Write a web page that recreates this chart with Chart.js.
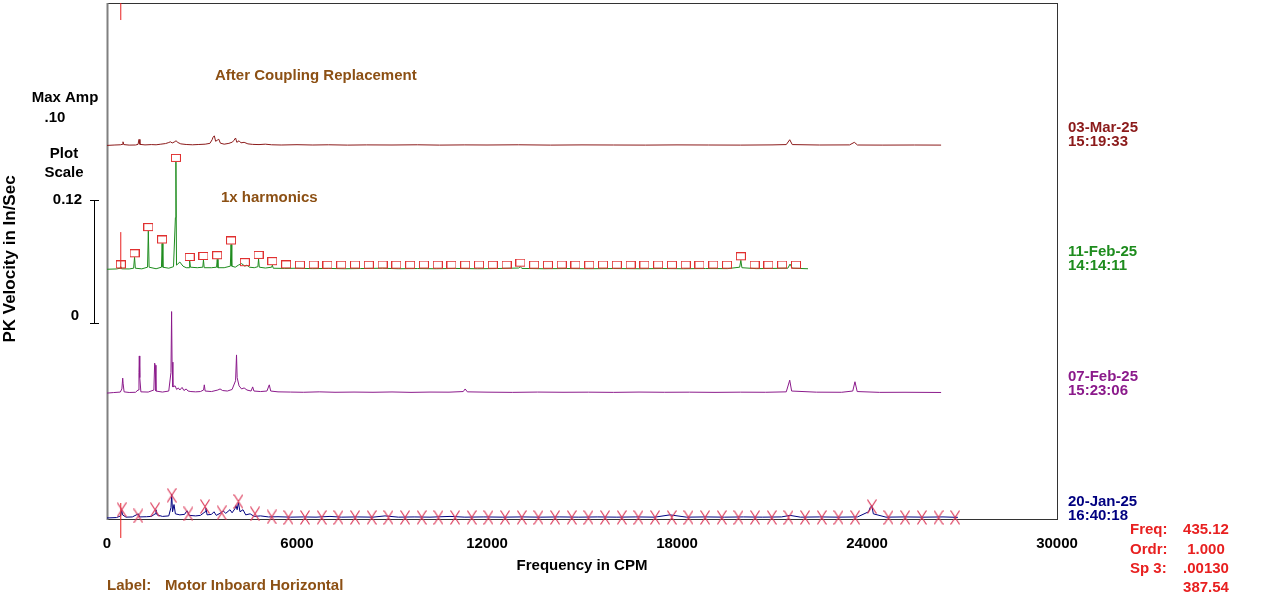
<!DOCTYPE html>
<html>
<head>
<meta charset="utf-8">
<script src="https://cdn.jsdelivr.net/npm/chart.js@4.4.1/dist/chart.umd.min.js"></script>
<style>
  html, body { margin: 0; padding: 0; background: #fff; overflow: hidden; }
  canvas { display: block; }
</style>
</head>
<body>
<canvas id="chart" width="1280" height="610" style="width:1280px;height:610px"></canvas>
<script>
// x ticks (CPM)
const xTicks = [0, 6000, 12000, 18000, 24000, 30000];

// waterfall dates, bottom to top
const traceDates = ['20-Jan-25', '07-Feb-25', '11-Feb-25', '03-Mar-25'];
const traceTimes = ['16:40:18', '15:23:06', '14:14:11', '15:19:33'];
const traceOffsets = [0.001, 0.122, 0.242, 0.362]; // in/sec, waterfall stacking

// 03-Mar-25 spectrum
const marFreq = [0, 250, 420, 480, 505, 530, 700, 900, 980, 1011, 1040, 1200, 1400, 1550, 1700, 1850, 1950, 2000, 2060, 2120,
  2180, 2240, 2330, 2500, 2700, 2900, 3100, 3250, 3320, 3350, 3390, 3430, 3480, 3530, 3580, 3700, 3850, 3960, 4010, 4060,
  4100, 4170, 4230, 4330, 4450, 4600, 4800, 5000, 5200, 5500, 6000, 6500, 7000, 7600, 8200, 9000, 9800, 10500, 11300, 12000,
  13000, 14000, 15000, 16000, 17000, 18000, 19000, 20000, 21000, 21450, 21560, 21640, 22500, 23450, 23600, 23700, 24500, 25500, 26340];
const marAmp = [0, 0.0004, 0.0006, 0.0010, 0.0035, 0.0008, 0.0003, 0.0004, 0.0010, 0.0058, 0.0010, 0.0005, 0.0008, 0.0006, 0.0012, 0.0018, 0.0028, 0.0035, 0.0024, 0.0032,
  0.0045, 0.0028, 0.0015, 0.0009, 0.0006, 0.0009, 0.0012, 0.0020, 0.0055, 0.0080, 0.0093, 0.0040, 0.0050, 0.0060, 0.0022, 0.0012, 0.0020, 0.0032, 0.0050, 0.0072,
  0.0030, 0.0045, 0.0025, 0.0030, 0.0015, 0.0010, 0.0008, 0.0012, 0.0006, 0.0004, 0.0007, 0.0004, 0.0006, 0.0003, 0.0005, 0.0004, 0.0006, 0.0003, 0.0005, 0.0004,
  0.0006, 0.0003, 0.0005, 0.0004, 0.0003, 0.0005, 0.0004, 0.0003, 0.0005, 0.0008, 0.0055, 0.0008, 0.0004, 0.0005, 0.0030, 0.0004, 0.0003, 0.0004, 0.0003];

// 11-Feb-25 spectrum
const feb11Freq = [0, 300, 420, 435, 460, 700, 840, 870, 895, 1100, 1280, 1305, 1330, 1550, 1720, 1740, 1765, 1950, 2100, 2160,
  2176, 2195, 2300, 2400, 2500, 2590, 2611, 2635, 2850, 3025, 3046, 3070, 3300, 3460, 3481, 3505, 3700, 3895, 3916, 3940,
  4050, 4150, 4250, 4351, 4420, 4500, 4650, 4765, 4786, 4810, 5000, 5200, 5221, 5250, 5600, 6000, 6500, 7000, 7500, 8000,
  8700, 9200, 9800, 10400, 11000, 11700, 12300, 13000, 13054, 13100, 13800, 14500, 15200, 16000, 16800, 17500, 18200, 18900, 19600, 19980,
  20016, 20050, 20500, 21000, 21500, 21570, 21640, 22137];
const feb11Amp = [0, 0.0003, 0.0010, 0.0025, 0.0004, 0.0003, 0.0010, 0.0116, 0.0010, 0.0004, 0.0020, 0.0370, 0.0020, 0.0005, 0.0020, 0.0250, 0.0020, 0.0010, 0.0025, 0.0500,
  0.1040, 0.0040, 0.0070, 0.0030, 0.0015, 0.0015, 0.0080, 0.0020, 0.0015, 0.0020, 0.0090, 0.0015, 0.0015, 0.0020, 0.0097, 0.0015, 0.0015, 0.0030, 0.0240, 0.0030,
  0.0020, 0.0040, 0.0055, 0.0030, 0.0040, 0.0020, 0.0015, 0.0025, 0.0100, 0.0020, 0.0012, 0.0020, 0.0040, 0.0010, 0.0008, 0.0010, 0.0006, 0.0008, 0.0005, 0.0007,
  0.0010, 0.0005, 0.0007, 0.0005, 0.0008, 0.0005, 0.0007, 0.0012, 0.0025, 0.0008, 0.0005, 0.0007, 0.0005, 0.0007, 0.0005, 0.0007, 0.0005, 0.0007, 0.0006, 0.0020,
  0.0087, 0.0015, 0.0006, 0.0008, 0.0010, 0.0050, 0.0010, 0.0005];

// 07-Feb-25 spectrum
const feb07Freq = [0, 200, 420, 470, 496, 510, 540, 700, 900, 980, 1010, 1020, 1035, 1070, 1300, 1480, 1505, 1520, 1545, 1750,
  1950, 2020, 2040, 2055, 2080, 2150, 2200, 2250, 2300, 2370, 2430, 2500, 2560, 2650, 2800, 2950, 3050, 3073, 3100, 3300,
  3500, 3570, 3650, 3800, 3950, 4060, 4090, 4110, 4170, 4250, 4330, 4420, 4550, 4600, 4640, 4850, 5050, 5125, 5170, 5400,
  5800, 6200, 6700, 7200, 7800, 8400, 9000, 9600, 10200, 10800, 11250, 11310, 11380, 12000, 12800, 13600, 14400, 15200, 16000, 16800,
  17600, 18400, 19200, 20000, 20800, 21450, 21560, 21620, 22400, 23200, 23550, 23620, 23690, 24400, 25200, 26340];
const feb07Amp = [0, 0.0005, 0.0010, 0.0040, 0.0145, 0.0090, 0.0012, 0.0006, 0.0008, 0.0030, 0.0200, 0.0360, 0.0150, 0.0012, 0.0010, 0.0030, 0.0290, 0.0270, 0.0020, 0.0010,
  0.0020, 0.0200, 0.0790, 0.0300, 0.0060, 0.0070, 0.0035, 0.0050, 0.0030, 0.0055, 0.0025, 0.0040, 0.0020, 0.0015, 0.0012, 0.0015, 0.0030, 0.0080, 0.0020, 0.0015,
  0.0030, 0.0040, 0.0025, 0.0020, 0.0035, 0.0120, 0.0370, 0.0150, 0.0070, 0.0040, 0.0050, 0.0030, 0.0020, 0.0060, 0.0020, 0.0015, 0.0020, 0.0080, 0.0020, 0.0012,
  0.0010, 0.0008, 0.0012, 0.0008, 0.0010, 0.0008, 0.0011, 0.0007, 0.0010, 0.0009, 0.0015, 0.0040, 0.0012, 0.0009, 0.0007, 0.0010, 0.0008, 0.0009, 0.0007, 0.0010,
  0.0008, 0.0009, 0.0007, 0.0009, 0.0008, 0.0012, 0.0125, 0.0020, 0.0009, 0.0008, 0.0020, 0.0110, 0.0015, 0.0007, 0.0008, 0.0006];

// 20-Jan-25 spectrum
const jan20Freq = [0, 300, 430, 464, 490, 600, 800, 990, 1030, 1250, 1400, 1520, 1547, 1580, 1750, 1950, 2020, 2043, 2070, 2116,
  2160, 2300, 2450, 2526, 2600, 2800, 2950, 3100, 3126, 3160, 3300, 3379, 3450, 3600, 3663, 3750, 3884, 3950, 4040, 4074,
  4110, 4149, 4200, 4295, 4380, 4520, 4650, 4850, 5100, 5400, 5800, 6200, 6600, 7042, 7400, 7900, 8400, 8780, 9200, 9700,
  10200, 10832, 11300, 11900, 12500, 13100, 13700, 14300, 14900, 15500, 16100, 16700, 17300, 17780, 18300, 18900, 19500, 20100, 20700, 21300,
  21569, 21900, 22500, 23100, 23700, 24050, 24100, 24152, 24200, 24600, 25200, 25800, 26400, 26870];
const jan20Amp = [0, 0.0004, 0.0020, 0.0080, 0.0030, 0.0008, 0.0010, 0.0040, 0.0010, 0.0012, 0.0015, 0.0040, 0.0080, 0.0030, 0.0015, 0.0020, 0.0100, 0.0230, 0.0060, 0.0130,
  0.0040, 0.0030, 0.0035, 0.0070, 0.0025, 0.0020, 0.0025, 0.0060, 0.0095, 0.0030, 0.0035, 0.0060, 0.0025, 0.0050, 0.0070, 0.0045, 0.0080, 0.0050, 0.0090, 0.0120,
  0.0080, 0.0150, 0.0060, 0.0080, 0.0030, 0.0040, 0.0015, 0.0020, 0.0010, 0.0012, 0.0008, 0.0010, 0.0008, 0.0015, 0.0008, 0.0010, 0.0008, 0.0020, 0.0008, 0.0010,
  0.0008, 0.0015, 0.0008, 0.0010, 0.0008, 0.0010, 0.0008, 0.0010, 0.0008, 0.0010, 0.0008, 0.0010, 0.0008, 0.0030, 0.0008, 0.0010, 0.0008, 0.0010, 0.0008, 0.0010,
  0.0025, 0.0008, 0.0010, 0.0008, 0.0010, 0.0060, 0.0100, 0.0120, 0.0040, 0.0008, 0.0010, 0.0008, 0.0010, 0.0006];

// 1x harmonic markers on 11-Feb (435.12 CPM)
const harmFreq = [435, 870, 1305, 1740, 2176, 2611, 3046, 3481, 3916, 4351, 4786, 5221, 5657, 6092, 6527, 6962, 7397, 7832, 8267, 8702,
  9138, 9573, 10008, 10443, 10878, 11313, 11748, 12183, 12618, 13054, 13489, 13924, 14359, 14794, 15229, 15664, 16099, 16534, 16970, 17405,
  17840, 18275, 18710, 19145, 19580, 20016, 20451, 20886, 21321, 21756];
const harmAmp = [0.0008, 0.0116, 0.0370, 0.0250, 0.1040, 0.0080, 0.0090, 0.0097, 0.0240, 0.0030, 0.0100, 0.0040, 0.0008, 0.0006, 0.0007, 0.0005, 0.0006, 0.0007, 0.0005, 0.0007,
  0.0006, 0.0005, 0.0007, 0.0006, 0.0005, 0.0006, 0.0007, 0.0005, 0.0006, 0.0025, 0.0006, 0.0005, 0.0007, 0.0006, 0.0005, 0.0007, 0.0006, 0.0005, 0.0006, 0.0007,
  0.0005, 0.0006, 0.0005, 0.0007, 0.0006, 0.0087, 0.0006, 0.0005, 0.0007, 0.0006];

// X markers on 20-Jan
const xMarkFreq = [464, 990, 1517, 2043, 2570, 3096, 3622, 4149, 4675, 5202, 5728, 6254, 6781, 7307, 7834, 8360, 8886, 9413, 9939, 10466,
  10992, 11518, 12045, 12571, 13098, 13624, 14150, 14677, 15203, 15730, 16256, 16782, 17309, 17835, 18362, 18888, 19414, 19941, 20467, 20994,
  21520, 22046, 22573, 23099, 23626, 24152, 24678, 25205, 25731, 26258, 26784];
const xMarkAmp = [0.0080, 0.0020, 0.0080, 0.0220, 0.0040, 0.0110, 0.0050, 0.0160, 0.0040, 0.0010, 0.0005, 0.0005, 0.0005, 0.0005, 0.0005, 0.0005, 0.0005, 0.0005, 0.0005, 0.0005,
  0.0005, 0.0005, 0.0005, 0.0005, 0.0005, 0.0005, 0.0005, 0.0005, 0.0005, 0.0005, 0.0005, 0.0005, 0.0005, 0.0005, 0.0005, 0.0005, 0.0005, 0.0005, 0.0005, 0.0005,
  0.0005, 0.0005, 0.0005, 0.0005, 0.0005, 0.0110, 0.0005, 0.0005, 0.0005, 0.0005, 0.0005];

// cursor at Freq 435.12 (absolute plot units)
const cursorFreq = 435.12;
const cursorLow = [0.4835, 0.2422, -0.0184];
const cursorHigh = [0.5, 0.278, 0.0155];

const traceColors = ['#000080', '#8B1A8B', '#1E8C1E', '#8B1A1A'];
const FONT = '"Liberation Sans", Arial, Helvetica, sans-serif';

function toPoints(freqs, amps, offset) {
  return freqs.map((f, i) => ({ x: f, y: amps[i] + offset }));
}

function squareMark() {
  const c = document.createElement('canvas');
  c.width = 10; c.height = 16;
  const g = c.getContext('2d');
  g.strokeStyle = '#E03030';
  g.lineWidth = 1;
  g.strokeRect(0.5, 0.5, 9, 7);
  return c;
}

function crossMark() {
  const c = document.createElement('canvas');
  c.width = 10; c.height = 15;
  const g = c.getContext('2d');
  g.strokeStyle = '#DC3A5A';
  g.lineWidth = 1.2;
  g.beginPath();
  g.moveTo(0.5, 0.5); g.lineTo(9.5, 14.5);
  g.moveTo(9.5, 0.5); g.lineTo(0.5, 14.5);
  g.stroke();
  return c;
}

const spectra = [
  [jan20Freq, jan20Amp],
  [feb07Freq, feb07Amp],
  [feb11Freq, feb11Amp],
  [marFreq, marAmp]
];

const datasets = spectra.map((s, i) => ({
  data: toPoints(s[0], s[1], traceOffsets[i]),
  showLine: true,
  borderColor: traceColors[i],
  borderWidth: 1,
  pointRadius: 0,
  tension: 0,
  order: 2
}));

datasets.push({
  data: toPoints(harmFreq, harmAmp, traceOffsets[2]),
  pointStyle: squareMark(),
  pointRadius: 5,
  order: 0,
  clip: false
});
datasets.push({
  data: toPoints(xMarkFreq, xMarkAmp, traceOffsets[0]),
  pointStyle: crossMark(),
  pointRadius: 5,
  order: 0,
  clip: false
});
cursorLow.forEach((lo, i) => {
  datasets.push({
    data: [{ x: cursorFreq, y: lo }, { x: cursorFreq, y: cursorHigh[i] }],
    showLine: true,
    borderColor: '#E82020',
    borderWidth: 1,
    pointRadius: 0,
    order: 1,
    clip: false
  });
});

const decor = {
  id: 'decor',
  beforeDatasetsDraw(chart) {
    const { ctx, chartArea: a } = chart;
    ctx.save();
    ctx.strokeStyle = '#333';
    ctx.lineWidth = 1;
    ctx.strokeRect(a.left + 0.5, a.top + 0.5, a.right - a.left, a.bottom - a.top);
    ctx.strokeStyle = '#808080';
    ctx.lineWidth = 2;
    ctx.beginPath();
    ctx.moveTo(a.left + 0.5, a.top);
    ctx.lineTo(a.left + 0.5, a.bottom + 1);
    ctx.stroke();
    ctx.restore();
  },
  afterDraw(chart) {
    const { ctx } = chart;
    const brown = '#8C5014';
    ctx.save();
    ctx.font = 'bold 15px ' + FONT;
    ctx.textBaseline = 'middle';
    const t = (s, x, y, c, al) => { ctx.fillStyle = c; ctx.textAlign = al || 'left'; ctx.fillText(s, x, y); };

    t('After Coupling Replacement', 215, 76, brown);
    t('1x harmonics', 221, 198, brown);

    t('Max Amp', 65, 98, '#000', 'center');
    t('.10', 55, 118, '#000', 'center');
    t('Plot', 64, 154, '#000', 'center');
    t('Scale', 64, 173, '#000', 'center');
    t('0.12', 82, 200, '#000', 'right');
    t('0', 79, 316, '#000', 'right');

    // plot scale bar
    ctx.strokeStyle = '#000';
    ctx.lineWidth = 1;
    ctx.beginPath();
    ctx.moveTo(94.5, 200); ctx.lineTo(94.5, 323.5);
    ctx.moveTo(90, 200.5); ctx.lineTo(99, 200.5);
    ctx.moveTo(90, 323.5); ctx.lineTo(99, 323.5);
    ctx.stroke();

    // y axis title
    ctx.save();
    ctx.font = 'bold 17px ' + FONT;
    ctx.translate(10, 259);
    ctx.rotate(-Math.PI / 2);
    t('PK Velocity in In/Sec', 0, 0, '#000', 'center');
    ctx.restore();

    // trace dates
    const dateY = [502, 377, 252, 128];
    traceDates.forEach((d, i) => {
      t(d, 1068, dateY[i], traceColors[i]);
      t(traceTimes[i], 1068, dateY[i] + 14, traceColors[i]);
    });

    t('Frequency in CPM', 582, 566, '#000', 'center');
    t('Label:', 107, 586, brown);
    t('Motor Inboard Horizontal', 165, 586, brown);

    const red = '#E82020';
    t('Freq:', 1130, 530, red);
    t('Ordr:', 1130, 550, red);
    t('Sp 3:', 1130, 569, red);
    t('435.12', 1206, 530, red, 'center');
    t('1.000', 1206, 550, red, 'center');
    t('.00130', 1206, 569, red, 'center');
    t('387.54', 1206, 588, red, 'center');
    ctx.restore();
  }
};

new Chart(document.getElementById('chart'), {
  type: 'scatter',
  data: { datasets },
  options: {
    responsive: false,
    animation: false,
    events: [],
    layout: { autoPadding: false, padding: { left: 107, right: 223, top: 3, bottom: 0 } },
    plugins: { legend: { display: false }, tooltip: { enabled: false } },
    scales: {
      x: {
        type: 'linear',
        min: xTicks[0],
        max: xTicks[xTicks.length - 1],
        afterFit: s => { s.height = 91; },
        afterBuildTicks: s => { s.ticks = xTicks.map(v => ({ value: v })); },
        grid: { display: false, drawTicks: false },
        border: { display: false },
        ticks: {
          color: '#000',
          padding: 16,
          maxRotation: 0,
          callback: v => String(v),
          font: { family: FONT, size: 15, weight: 'bold' }
        }
      },
      y: {
        display: false,
        min: 0,
        max: 0.5,
        ticks: { display: false }
      }
    }
  },
  plugins: [decor]
});
</script>
</body>
</html>
